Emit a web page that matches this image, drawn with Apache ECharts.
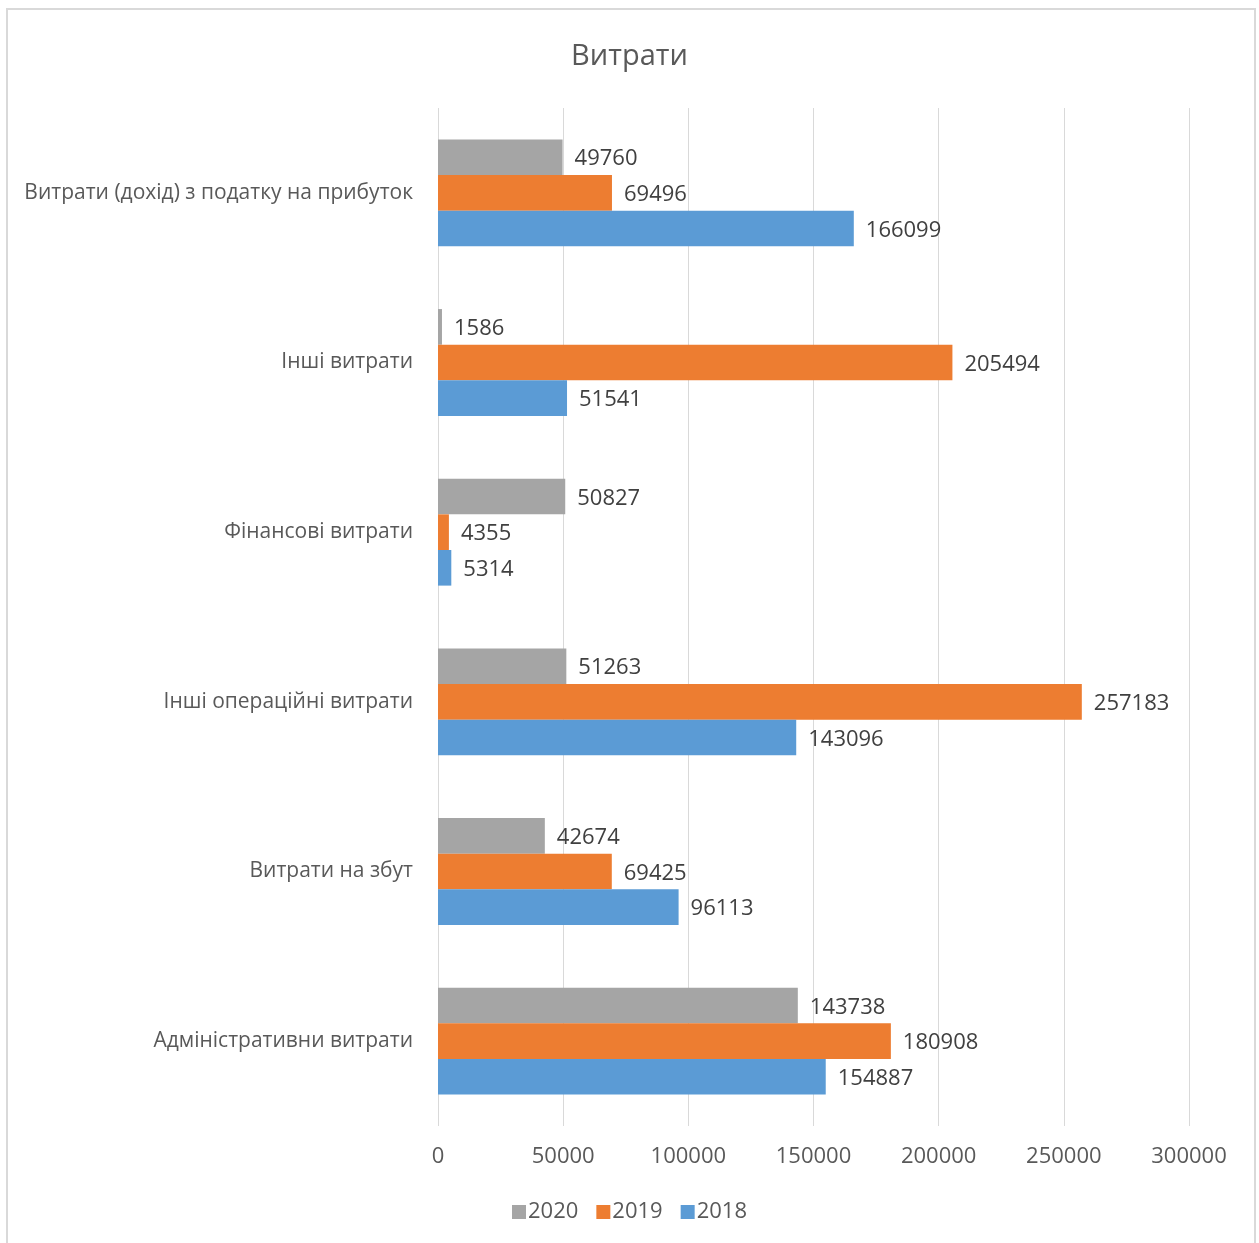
<!DOCTYPE html>
<html>
<head>
<meta charset="utf-8">
<script src="https://cdn.jsdelivr.net/npm/echarts@6/dist/echarts.min.js"></script>
<style>
html,body{margin:0;padding:0;background:#fff;}
#chart{width:1259px;height:1243px;}
</style>
</head>
<body>
<div id="chart"></div>
<script>
const categories = [
  'Адміністративни витрати',
  'Витрати на збут',
  'Інші операційні витрати',
  'Фінансові витрати',
  'Інші витрати',
  'Витрати (дохід) з податку на прибуток'
];
const values2018 = [154887, 96113, 143096, 5314, 51541, 166099];
const values2019 = [180908, 69425, 257183, 4355, 205494, 69496];
const values2020 = [143738, 42674, 51263, 50827, 1586, 49760];
const xTicks = { min: 0, max: 300000, interval: 50000 };

const FONT = 'Open Sans';
const labelStyle = {
  show: true, position: 'right', distance: 12, offset: [0, 2],
  color: '#404040', fontFamily: FONT, fontSize: 22
};
function mkSeries(name, data, color) {
  return {
    name: name, type: 'bar', data: data,
    barGap: '0%', barCategoryGap: '37%',
    itemStyle: { color: color },
    label: labelStyle,
    emphasis: { disabled: true }
  };
}

const chart = echarts.init(document.getElementById('chart'));
chart.setOption({
  animation: false,
  backgroundColor: '#fff',
  title: {
    text: 'Витрати', left: 'center', top: 37,
    textStyle: { color: '#595959', fontFamily: FONT, fontSize: 29, fontWeight: 'normal' }
  },
  graphic: [{
    type: 'rect', shape: { x: 7, y: 9, width: 1248, height: 1260 },
    style: { fill: 'none', stroke: '#d9d9d9', lineWidth: 2 }, silent: true
  }],
  legend: {
    data: ['2020', '2019', '2018'],
    bottom: 15, left: 'center',
    itemWidth: 14, itemHeight: 14, itemGap: 18,
    icon: 'rect',
    textStyle: { color: '#595959', fontFamily: FONT, fontSize: 22, padding: [0, 0, 0, -3] }
  },
  grid: { left: 438, right: 70, top: 108, bottom: 117, containLabel: false },
  xAxis: {
    type: 'value', min: xTicks.min, max: xTicks.max, interval: xTicks.interval,
    axisLine: { show: false }, axisTick: { show: false },
    splitLine: { show: true, lineStyle: { color: '#d9d9d9', width: 1 } },
    axisLabel: { color: '#595959', fontFamily: FONT, fontSize: 22, margin: 20,
      formatter: function (v) { return String(v); } }
  },
  yAxis: {
    type: 'category', data: categories,
    axisLine: { show: false }, axisTick: { show: false },
    axisLabel: { color: '#595959', fontFamily: FONT, fontSize: 21, margin: 25 }
  },
  series: [
    mkSeries('2020', values2020, '#A5A5A5'),
    mkSeries('2019', values2019, '#ED7D31'),
    mkSeries('2018', values2018, '#5B9BD5')
  ]
});
</script>
</body>
</html>
